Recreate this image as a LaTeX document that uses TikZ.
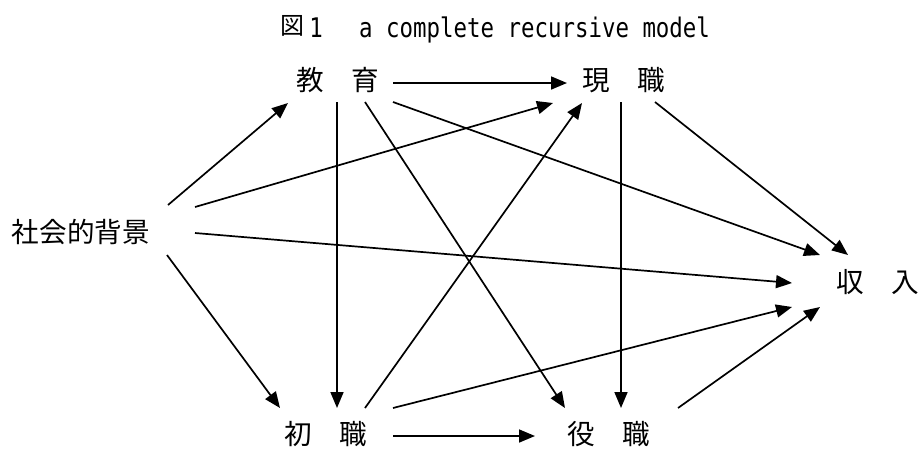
\documentclass[tikz,border=0pt]{standalone}
\usepackage{fontspec}
\usetikzlibrary{arrows.meta,calc}
\newfontfamily\kanjiface{Noto Sans CJK JP}
\newfontfamily\latinmono[FakeStretch=0.83]{DejaVu Sans Mono}

\begin{document}
\begin{tikzpicture}[x=1pt,y=-1pt,
  lbl/.style={inner sep=0pt, font=\kanjiface\fontsize{27.6pt}{30pt}\selectfont},
  link/.style={line width=1.7pt, -{Triangle[length=16pt,width=13pt]}},
  capfont/.style={inner sep=0pt, font=\latinmono\fontsize{27pt}{30pt}\selectfont}]
\useasboundingbox (0,0) rectangle (922,448);

% caption
\node[inner sep=0pt, font=\kanjiface\fontsize{24pt}{26pt}\selectfont] (fig) at (292.5,26) {図};
\node[capfont, anchor=base] (num) at (316,37) {1};
\node[capfont, anchor=base west] (cap) at (359,37) {a complete recursive model};

% variables
\node[lbl] (soc) at (81,231.5) {社会的背景};
\node[lbl] (edu) at (337.5,80) {教　育};
\node[lbl] (cur) at (623.5,80) {現　職};
\node[lbl] (ini) at (326,434.5) {初　職};
\node[lbl] (rol) at (609,434.5) {役　職};
\node[lbl] (inc) at (877.5,282.5) {収　入};

% paths of the recursive model
\draw[link] ($(edu)+(55.5,3)$) -- ($(cur)+(-56.5,3)$);
\draw[link] ($(soc)+(87,-26.5)$) -- ($(edu)+(-49.5,23)$);
\draw[link] ($(soc)+(114,-24.5)$) -- ($(cur)+(-70.5,23)$);
\draw[link] ($(soc)+(114,1.5)$) -- ($(inc)+(-85.5,0.5)$);
\draw[link] ($(soc)+(86,23.5)$) -- ($(ini)+(-46,-26.5)$);
\draw[link] ($(edu)+(-0.5,22)$) -- ($(ini)+(11,-26.5)$);
\draw[link] ($(edu)+(27.5,22)$) -- ($(rol)+(-44,-26.5)$);
\draw[link] ($(edu)+(55.5,22)$) -- ($(inc)+(-57.5,-27.5)$);
\draw[link] ($(ini)+(39,-26.5)$) -- ($(cur)+(-41.5,23)$);
\draw[link] ($(ini)+(67,-26.5)$) -- ($(inc)+(-85.5,24.5)$);
\draw[link] ($(ini)+(67,1.5)$) -- ($(rol)+(-74,1.5)$);
\draw[link] ($(cur)+(-2.5,22)$) -- ($(rol)+(12,-26.5)$);
\draw[link] ($(cur)+(31.5,22)$) -- ($(inc)+(-29.5,-27.5)$);
\draw[link] ($(rol)+(69,-26.5)$) -- ($(inc)+(-57.5,24.5)$);
\end{tikzpicture}
\end{document}
